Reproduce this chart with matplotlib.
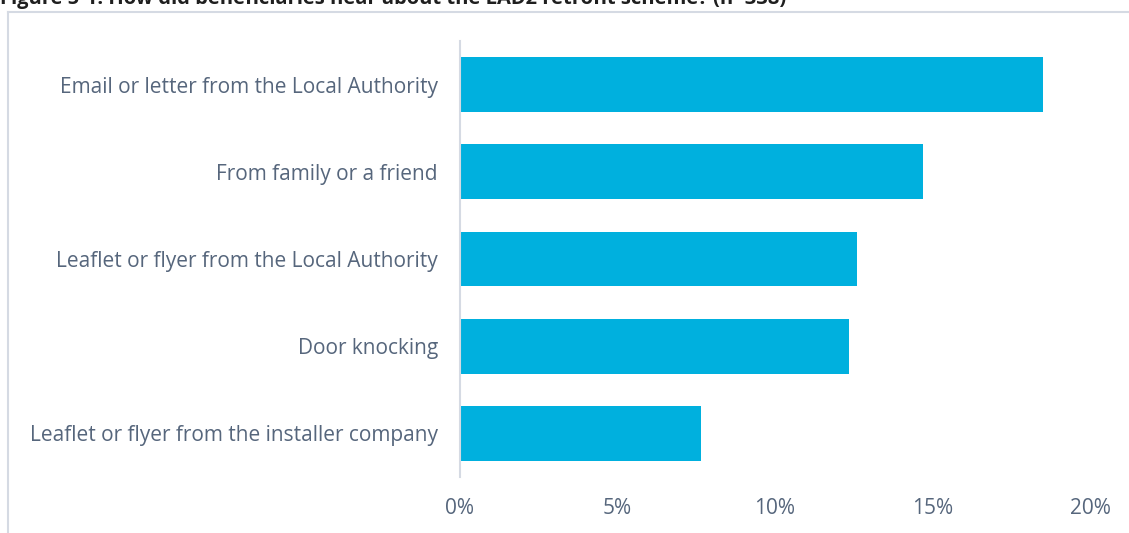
import matplotlib

matplotlib.use("Agg")

import matplotlib.pyplot as plt
from matplotlib.lines import Line2D
from matplotlib.ticker import FuncFormatter

plt.rcParams["font.family"] = ["Open Sans", "DejaVu Sans"]

TITLE = "Figure 5-1: How did beneficiaries hear about the LAD2 retrofit scheme? (n=338)"
SOURCES = [
    "Email or letter from the Local Authority",
    "From family or a friend",
    "Leaflet or flyer from the Local Authority",
    "Door knocking",
    "Leaflet or flyer from the installer company",
]
SHARE_PCT = [18.5, 14.7, 12.6, 12.35, 7.65]
X_TICKS = [0, 5, 10, 15, 20]

BAR_COLOR = "#00b0de"
TEXT_COLOR = "#56667c"
LINE_COLOR = "#d5dae3"

W, H = 1129, 533
fig = plt.figure(figsize=(W / 100, H / 100), dpi=100)

# plot area in pixel terms: x from 460 to 1090, y from 41 to 477
ax = fig.add_axes([460 / W, 1 - 477 / H, 630 / W, 436 / H])

ypos = list(range(len(SOURCES)))
ax.barh(ypos, SHARE_PCT, height=0.63, color=BAR_COLOR, zorder=2)
ax.set_ylim(len(SOURCES) - 0.5, -0.5)
ax.set_xlim(0, 20)

ax.set_yticks(ypos)
ax.set_yticklabels(SOURCES)
ax.set_xticks(X_TICKS)
ax.xaxis.set_major_formatter(FuncFormatter(lambda v, _: f"{v:.0f}%"))

for side in ["top", "right", "bottom"]:
    ax.spines[side].set_visible(False)
ax.spines["left"].set_color(LINE_COLOR)
ax.spines["left"].set_linewidth(1.5)

ax.tick_params(axis="both", length=0, labelsize=15, colors=TEXT_COLOR)
ax.tick_params(axis="y", pad=16)
ax.tick_params(axis="x", pad=15)

# outer chart frame (top and left edges visible)
fig.add_artist(Line2D([8 / W, 1], [1 - 12 / H, 1 - 12 / H], color=LINE_COLOR, lw=1.5))
fig.add_artist(Line2D([8 / W, 8 / W], [0, 1 - 12 / H], color=LINE_COLOR, lw=1.5))

fig.text(0, 1 - 4 / H, TITLE, ha="left", va="baseline", fontsize=14.5,
         fontweight="bold", color="#1f1f1f")

fig.savefig("out.png", dpi=100)
